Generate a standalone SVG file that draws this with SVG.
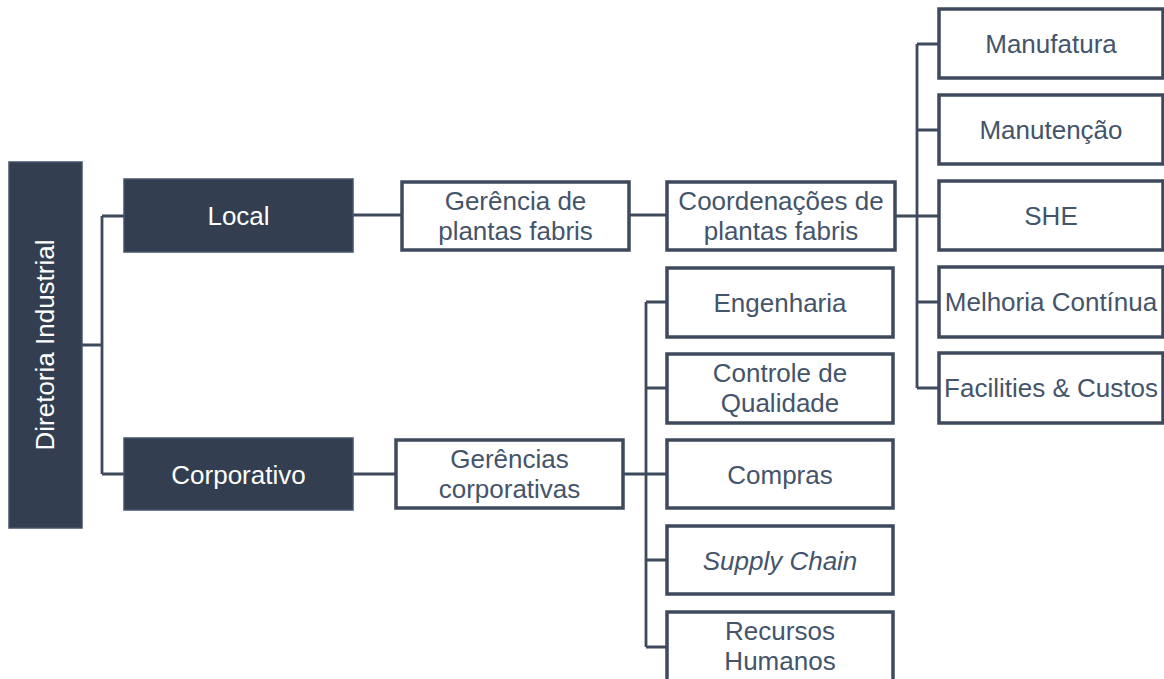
<svg xmlns="http://www.w3.org/2000/svg" width="1164" height="679" viewBox="0 0 1164 679">
<style>
  .dark{fill:#333F50;stroke:#44546A;stroke-width:1.5}
  .box{fill:#FFFFFF;stroke:#3E4A5C;stroke-width:3.5}
  .wt{font-family:"Liberation Sans",Arial,sans-serif;font-size:26px;fill:#FFFFFF;text-anchor:middle}
  .t{font-family:"Liberation Sans",Arial,sans-serif;font-size:26px;fill:#44546A;text-anchor:middle}
  .it{font-style:italic}
  .ln{fill:none;stroke:#3E4A5C;stroke-width:2.8}
</style>
<rect width="1164" height="679" fill="#FFFFFF"/>
<g id="connectors">
  <path class="ln" d="M82,345 H102 M102,216 V474 M102,216 H124 M102,474 H124"/>
  <path class="ln" d="M353,215 H402"/>
  <path class="ln" d="M629,215 H667"/>
  <path class="ln" d="M895,216 H939 M917,44 V388 M917,44 H939 M917,130 H939 M917,302 H939 M917,388 H939"/>
  <path class="ln" d="M353,474 H396"/>
  <path class="ln" d="M623,474 H667 M646,302 V647 M646,302 H667 M646,388 H667 M646,560 H667 M646,647 H667"/>
</g>
<g id="n-diretoria">
  <rect class="dark" x="9" y="162" width="73" height="366"/>
  <text class="wt" transform="translate(54,345) rotate(-90)">Diretoria Industrial</text>
</g>
<g id="n-local">
  <rect class="dark" x="124" y="179" width="229" height="73"/>
  <text class="wt" x="238.5" y="225">Local</text>
</g>
<g id="n-corporativo">
  <rect class="dark" x="124" y="438" width="229" height="72"/>
  <text class="wt" x="238.5" y="483.5">Corporativo</text>
</g>
<g id="n-gerencia-plantas">
  <rect class="box" x="402" y="182" width="227" height="68"/>
  <text class="t" x="515.5" y="210">Gerência de</text>
  <text class="t" x="515.5" y="240">plantas fabris</text>
</g>
<g id="n-coord-plantas">
  <rect class="box" x="667" y="182" width="228" height="68"/>
  <text class="t" x="781" y="210">Coordenações de</text>
  <text class="t" x="781" y="240">plantas fabris</text>
</g>
<g id="n-manufatura">
  <rect class="box" x="939" y="9" width="224" height="69"/>
  <text class="t" x="1051" y="53">Manufatura</text>
</g>
<g id="n-manutencao">
  <rect class="box" x="939" y="95" width="224" height="69"/>
  <text class="t" x="1051" y="139">Manutenção</text>
</g>
<g id="n-she">
  <rect class="box" x="939" y="181" width="224" height="69"/>
  <text class="t" x="1051" y="225">SHE</text>
</g>
<g id="n-melhoria">
  <rect class="box" x="939" y="267" width="224" height="70"/>
  <text class="t" x="1051" y="311">Melhoria Contínua</text>
</g>
<g id="n-facilities">
  <rect class="box" x="939" y="353" width="224" height="70"/>
  <text class="t" x="1051" y="397">Facilities &amp; Custos</text>
</g>
<g id="n-gerencias-corp">
  <rect class="box" x="396" y="440" width="227" height="68"/>
  <text class="t" x="509.5" y="468">Gerências</text>
  <text class="t" x="509.5" y="498">corporativas</text>
</g>
<g id="n-engenharia">
  <rect class="box" x="667" y="268" width="226" height="69"/>
  <text class="t" x="780" y="312">Engenharia</text>
</g>
<g id="n-controle">
  <rect class="box" x="667" y="354" width="226" height="69"/>
  <text class="t" x="780" y="382">Controle de</text>
  <text class="t" x="780" y="412">Qualidade</text>
</g>
<g id="n-compras">
  <rect class="box" x="667" y="440" width="226" height="68"/>
  <text class="t" x="780" y="484">Compras</text>
</g>
<g id="n-supply">
  <rect class="box" x="667" y="526" width="226" height="68"/>
  <text class="t it" x="780" y="570">Supply Chain</text>
</g>
<g id="n-recursos">
  <rect class="box" x="667" y="612" width="226" height="72"/>
  <text class="t" x="780" y="640">Recursos</text>
  <text class="t" x="780" y="670">Humanos</text>
</g>
</svg>
